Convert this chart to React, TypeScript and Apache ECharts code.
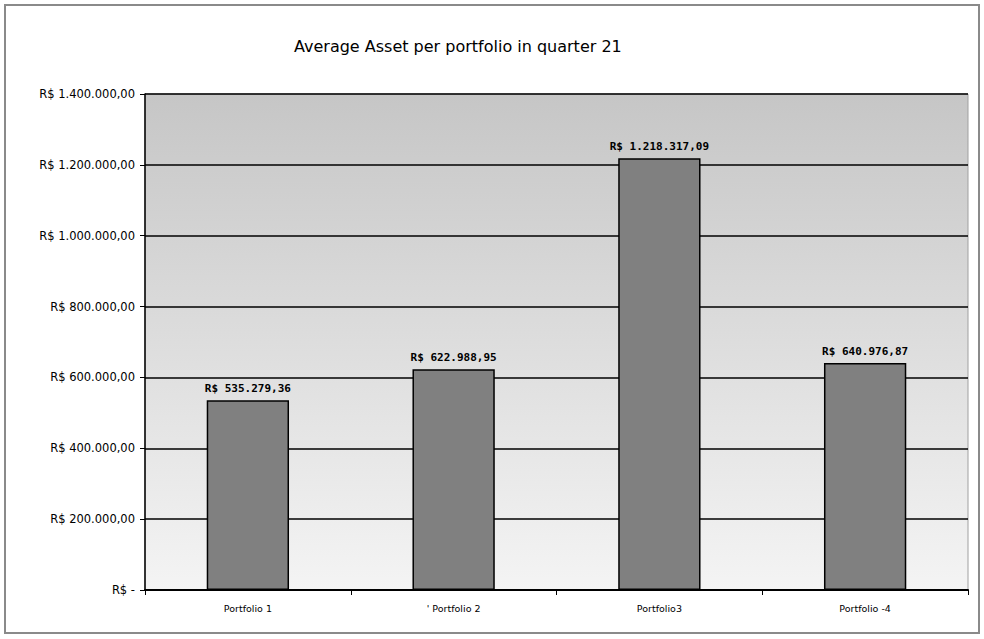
import React, { useEffect, useRef } from "react";
import * as echarts from "echarts";

const categories = ["Portfolio 1", "' Portfolio 2", "Portfolio3", "Portfolio -4"];
const values = [535279.36, 622988.95, 1218317.09, 640976.87];
const yTicks = [0, 200000, 400000, 600000, 800000, 1000000, 1200000, 1400000];
const titleText = "Average Asset per portfolio in quarter 21";

function brl(v: number): string {
  if (v === 0) return "R$ -";
  const [i, d] = v.toFixed(2).split(".");
  const ip = i.replace(/\B(?=(\d{3})+(?!\d))/g, ".");
  return "R$ " + ip + "," + d;
}

export default function App() {
  const ref = useRef<HTMLDivElement>(null);
  useEffect(() => {
    const chart = echarts.init(ref.current!, null, { renderer: "svg" });
    chart.setOption({
      animation: false,
      backgroundColor: "#ffffff",
      title: {
        text: titleText,
        left: 289,
        top: 33,
        textStyle: { fontFamily: "DejaVu Sans", fontWeight: "normal", fontSize: 16, color: "#000" },
      },
      graphic: [
        {
          type: "rect",
          shape: { x: 5, y: 5, width: 974, height: 628 },
          style: { fill: "none", stroke: "#8a8a8a", lineWidth: 2 },
          z: -1,
        },
      ],
      grid: {
        left: 145,
        right: 16,
        top: 94,
        bottom: 49,
        show: true,
        borderColor: "#a0a0a0",
        borderWidth: 1,
        backgroundColor: new echarts.graphic.LinearGradient(0, 0, 0, 1, [
          { offset: 0, color: "#c6c6c6" },
          { offset: 1, color: "#f4f4f4" },
        ]),
      },
      xAxis: {
        type: "category",
        data: categories,
        axisLine: { show: true, lineStyle: { color: "#000", width: 2 } },
        axisTick: { show: true, alignWithLabel: false, length: 5, lineStyle: { color: "#000" } },
        axisLabel: { fontFamily: "DejaVu Sans", fontSize: 9.5, color: "#000", margin: 13 },
      },
      yAxis: {
        type: "value",
        min: 0,
        max: 1400000,
        interval: 200000,
        axisLine: { show: true, lineStyle: { color: "#000", width: 1.5 } },
        axisTick: { show: true, length: 5, lineStyle: { color: "#000" } },
        splitLine: { show: true, lineStyle: { color: "#000", width: 1.5 } },
        axisLabel: {
          fontFamily: "DejaVu Sans",
          fontSize: 11.5,
          color: "#000",
          margin: 10,
          formatter: (v: number) => (yTicks.includes(v) ? brl(v) : ""),
        },
      },
      series: [
        {
          type: "bar",
          data: values,
          barWidth: "40%",
          itemStyle: { color: "#808080", borderColor: "#000", borderWidth: 1.5 },
          label: {
            show: true,
            position: "top",
            distance: 6,
            fontFamily: "DejaVu Sans Mono",
            fontWeight: "bold",
            fontSize: 11,
            color: "#000",
            formatter: (p: any) => brl(p.value),
          },
        },
      ],
    });
    return () => chart.dispose();
  }, []);
  return <div ref={ref} style={{ position: "fixed", left: 0, top: 0, width: 984, height: 639 }} />;
}
